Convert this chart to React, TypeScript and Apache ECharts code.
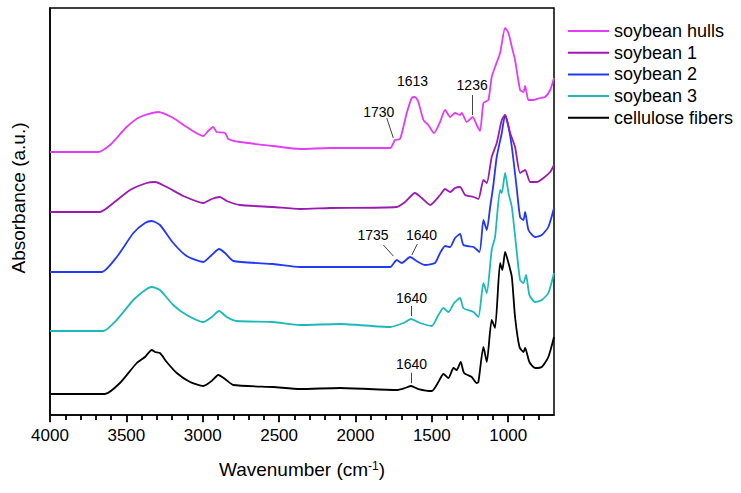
import React, { useEffect, useRef } from 'react';
import * as echarts from 'echarts';

const FONT = '"Liberation Sans", Arial, sans-serif';

const seriesNames = ['soybean hulls', 'soybean 1', 'soybean 2', 'soybean 3', 'cellulose fibers'];
const seriesColors = ['#E23CF6', '#9C1AB1', '#2238F5', '#1DB9B9', '#000000'];
const xTickLabels = [4000, 3500, 3000, 2500, 2000, 1500, 1000];
const xMinorTicks = [
  3900, 3800, 3700, 3600, 3400, 3300, 3200, 3100, 2900, 2800, 2700, 2600, 2400, 2300, 2200, 2100,
  1900, 1800, 1700, 1600, 1400, 1300, 1200, 1100, 900, 800,
];

// [wavenumber (cm-1), absorbance (a.u., offset)]
const soybeanHulls: [number, number][] = [
  [4000, 2.63], [3684, 2.63], [3607, 2.7], [3498, 2.88], [3411, 2.98], [3291, 3.03], [3192, 2.97],
  [3105, 2.88], [2996, 2.79], [2965, 2.84], [2931, 2.88], [2909, 2.83], [2854, 2.82], [2832, 2.76],
  [2756, 2.73], [2538, 2.69], [2363, 2.66], [2166, 2.67], [1773, 2.67], [1741, 2.75], [1708, 2.76],
  [1664, 3.02], [1631, 3.17], [1610, 3.18], [1588, 3.13], [1555, 2.95], [1523, 2.9], [1485, 2.82],
  [1446, 2.93], [1413, 3.05], [1380, 2.98], [1348, 3.02], [1315, 3.0], [1304, 3.02], [1271, 2.93],
  [1232, 2.98], [1206, 2.9], [1184, 2.84], [1162, 3.12], [1130, 3.15], [1108, 3.38], [1086, 3.48],
  [1053, 3.62], [1020, 3.87], [998, 3.82], [976, 3.68], [955, 3.55], [922, 3.25], [900, 3.23],
  [889, 3.29], [867, 3.15], [835, 3.15], [791, 3.17], [758, 3.18], [725, 3.25], [700, 3.37],
];
const soybean1: [number, number][] = [
  [4000, 2.03], [3673, 2.03], [3585, 2.12], [3476, 2.25], [3367, 2.32], [3312, 2.33], [3236, 2.28],
  [3127, 2.19], [2996, 2.12], [2941, 2.16], [2887, 2.18], [2843, 2.14], [2756, 2.1], [2538, 2.08],
  [2363, 2.06], [2166, 2.07], [1730, 2.08], [1675, 2.13], [1610, 2.22], [1566, 2.17], [1511, 2.1],
  [1446, 2.2], [1413, 2.26], [1380, 2.23], [1348, 2.27], [1315, 2.28], [1282, 2.2], [1227, 2.18],
  [1195, 2.16], [1162, 2.35], [1140, 2.32], [1108, 2.58], [1075, 2.72], [1042, 2.95], [1020, 3.0],
  [987, 2.82], [955, 2.68], [922, 2.42], [889, 2.45], [856, 2.33], [813, 2.33], [769, 2.37],
  [725, 2.43], [700, 2.5],
];
const soybean2: [number, number][] = [
  [4000, 1.43], [3661, 1.43], [3563, 1.58], [3454, 1.82], [3378, 1.92], [3334, 1.94], [3280, 1.9],
  [3193, 1.72], [3105, 1.59], [2996, 1.53], [2941, 1.6], [2893, 1.66], [2854, 1.62], [2800, 1.54],
  [2538, 1.51], [2363, 1.48], [2166, 1.48], [1773, 1.48], [1730, 1.55], [1697, 1.52], [1642, 1.58],
  [1600, 1.54], [1544, 1.5], [1479, 1.52], [1446, 1.62], [1413, 1.69], [1380, 1.68], [1348, 1.77],
  [1315, 1.81], [1293, 1.7], [1227, 1.68], [1188, 1.63], [1162, 1.95], [1140, 1.85], [1118, 2.08],
  [1097, 2.3], [1075, 2.58], [1042, 2.82], [1020, 3.0], [998, 2.88], [976, 2.68], [945, 2.28],
  [922, 1.98], [900, 1.95], [889, 2.03], [867, 1.85], [824, 1.78], [780, 1.8], [737, 1.88], [700, 2.07],
];
const soybean3: [number, number][] = [
  [4000, 0.84], [3651, 0.84], [3563, 0.95], [3454, 1.15], [3367, 1.26], [3334, 1.28], [3280, 1.25],
  [3193, 1.1], [3105, 1.0], [2996, 0.93], [2941, 0.98], [2893, 1.04], [2843, 0.98], [2777, 0.94],
  [2538, 0.93], [2363, 0.9], [2101, 0.91], [1773, 0.88], [1686, 0.92], [1636, 0.96], [1577, 0.92],
  [1500, 0.89], [1457, 1.0], [1424, 1.07], [1391, 1.03], [1354, 1.12], [1315, 1.17], [1293, 1.07],
  [1227, 1.03], [1195, 0.98], [1162, 1.32], [1140, 1.22], [1108, 1.65], [1086, 1.78], [1053, 2.25],
  [1042, 2.22], [1020, 2.42], [998, 2.22], [976, 2.08], [943, 1.62], [922, 1.35], [900, 1.32],
  [883, 1.4], [861, 1.2], [824, 1.13], [780, 1.15], [737, 1.22], [700, 1.42],
];
const celluloseFibers: [number, number][] = [
  [4000, 0.21], [3640, 0.21], [3542, 0.32], [3432, 0.52], [3378, 0.58], [3334, 0.65], [3312, 0.63],
  [3280, 0.62], [3236, 0.53], [3170, 0.42], [3083, 0.33], [2996, 0.29], [2941, 0.34], [2898, 0.4],
  [2854, 0.36], [2800, 0.3], [2538, 0.28], [2363, 0.26], [2101, 0.27], [1730, 0.25], [1675, 0.27],
  [1636, 0.29], [1588, 0.26], [1500, 0.24], [1457, 0.33], [1424, 0.41], [1391, 0.37], [1358, 0.47],
  [1337, 0.45], [1311, 0.53], [1289, 0.42], [1239, 0.38], [1206, 0.32], [1195, 0.33], [1162, 0.68],
  [1140, 0.53], [1108, 0.95], [1086, 0.87], [1053, 1.52], [1038, 1.45], [1020, 1.63], [998, 1.52],
  [976, 1.38], [955, 0.98], [926, 0.68], [900, 0.63], [889, 0.67], [861, 0.53], [824, 0.47],
  [780, 0.48], [737, 0.58], [700, 0.78],
];
const seriesData = [soybeanHulls, soybean1, soybean2, soybean3, celluloseFibers];

// peak annotations: label position [wavenumber, absorbance]
const annotationTexts = ['1613', '1730', '1236', '1735', '1640', '1640', '1640'];
const annotationPositions: [number, number][] = [
  [1626, 3.34], [1847, 3.03], [1236, 3.305], [1885, 1.805], [1567, 1.805], [1633, 1.175], [1633, 0.51],
];
const annotationLeaders: [number, number][][] = [
  [[1795, 2.97], [1752, 2.77]],
  [[1238, 3.2], [1238, 3.0]],
  [[1817, 1.7], [1752, 1.59]],
  [[1595, 1.71], [1631, 1.6]],
  [[1636, 1.09], [1636, 0.99]],
  [[1636, 0.423], [1636, 0.317]],
];

export default function App() {
  const ref = useRef<HTMLDivElement>(null);
  useEffect(() => {
    if (!ref.current) return;
    const chart = echarts.init(ref.current, undefined, { renderer: 'svg' });
    const lineSeries = seriesNames.map((name, i) => ({
      name,
      type: 'line',
      data: seriesData[i],
      symbol: 'none',
      smooth: 0.2,
      lineStyle: { color: seriesColors[i], width: 1.8 },
      itemStyle: { color: seriesColors[i] },
      z: 5 - i,
    }));
    const tickData = [
      ...xTickLabels.map((v) => ({ coords: [[v, 0], [v, -0.072]] })),
      ...xMinorTicks.map((v) => ({ coords: [[v, 0], [v, -0.05]] })),
    ];
    chart.setOption({
      animation: false,
      grid: { left: 50, right: 187, top: 8, bottom: 78, show: true, borderColor: '#000', borderWidth: 1.5 },
      legend: {
        data: seriesNames,
        orient: 'vertical',
        left: 568,
        top: 22,
        padding: 0,
        icon: 'rect',
        itemWidth: 41,
        itemHeight: 2,
        itemGap: 3.7,
        textStyle: { fontFamily: FONT, fontSize: 18, color: '#000' },
      },
      xAxis: {
        type: 'value',
        min: 700,
        max: 4000,
        inverse: true,
        position: 'bottom',
        name: 'Wavenumber (cm{sup|-1})',
        nameLocation: 'middle',
        nameGap: 45,
        nameTextStyle: {
          fontFamily: FONT,
          fontSize: 19,
          color: '#000',
          rich: { sup: { fontFamily: FONT, fontSize: 12, color: '#000', verticalAlign: 'top' } },
        },
        axisLine: { show: true, lineStyle: { color: '#000', width: 1.5 } },
        axisTick: { show: false },
        axisLabel: {
          fontFamily: FONT,
          fontSize: 17,
          color: '#000',
          margin: 12,
          formatter: (v: number) => (xTickLabels.includes(v) ? String(v) : ''),
        },
        splitLine: { show: false },
      },
      yAxis: {
        type: 'value',
        min: 0,
        max: 4.07,
        axisLine: { show: true, lineStyle: { color: '#000', width: 1.5 } },
        axisTick: { show: false },
        axisLabel: { show: false },
        splitLine: { show: false },
      },
      graphic: [
        {
          type: 'text',
          x: 18,
          y: 198,
          rotation: Math.PI / 2,
          style: {
            text: 'Absorbance (a.u.)',
            fontFamily: FONT,
            fontSize: 19,
            fill: '#000',
            align: 'center',
            verticalAlign: 'middle',
          },
        },
      ],
      series: [
        ...lineSeries,
        {
          name: 'axisTicks',
          type: 'lines',
          coordinateSystem: 'cartesian2d',
          silent: true,
          clip: false,
          lineStyle: { color: '#000', width: 1.8, opacity: 1 },
          data: tickData,
          z: 10,
        },
        {
          name: 'leaders',
          type: 'lines',
          coordinateSystem: 'cartesian2d',
          silent: true,
          lineStyle: { color: '#444', width: 1, opacity: 1 },
          data: annotationLeaders.map((c) => ({ coords: c })),
          z: 10,
        },
        {
          name: 'labels',
          type: 'scatter',
          silent: true,
          symbolSize: 0,
          itemStyle: { color: '#000', opacity: 1 },
          label: {
            show: true,
            position: 'inside',
            fontFamily: FONT,
            fontSize: 14,
            color: '#000',
            opacity: 1,
            formatter: (p: any) => p.name,
          },
          data: annotationTexts.map((t, i) => ({ name: t, value: annotationPositions[i] })),
          z: 10,
        },
      ],
    });
    return () => chart.dispose();
  }, []);
  return <div ref={ref} style={{ position: 'absolute', left: 0, top: 0, width: 741, height: 493 }} />;
}
